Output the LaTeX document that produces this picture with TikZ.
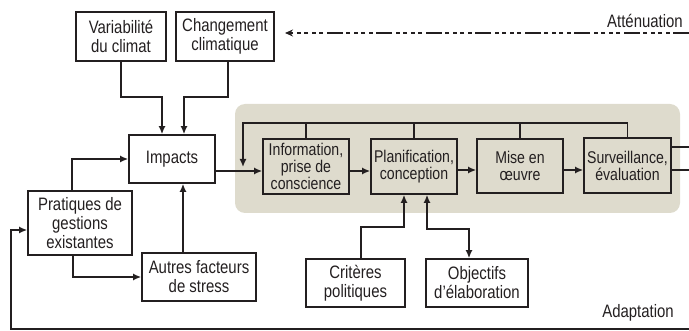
\documentclass[tikz,border=0pt]{standalone}
\usepackage{fontspec}
\setmainfont{Liberation Sans}[FakeStretch=0.83]
\usetikzlibrary{arrows.meta,calc}
\definecolor{ink}{RGB}{35,31,32}
\definecolor{zone}{RGB}{222,219,205}
\begin{document}
\begin{tikzpicture}[x=1pt,y=-1pt,
  every node/.style={text=ink},
  box/.style={draw=ink,line width=1.7pt,inner sep=0pt,align=center,
    font=\fontsize{18}{19}\selectfont},
  inbox/.style={box,font=\fontsize{17}{17}\selectfont},
  conn/.style={draw=ink,line width=1.5pt},
  arr/.style={conn,-{Latex[length=8pt,width=7pt]}},
  arrtwo/.style={conn,{Latex[length=8pt,width=7pt]}-{Latex[length=8pt,width=7pt]}},
  lbl/.style={font=\fontsize{18}{19}\selectfont,inner sep=0pt,anchor=east}]
\useasboundingbox (0,0) rectangle (689,331);
% shaded zone
\fill[zone,rounded corners=10pt] (235,104) rectangle (680,213);
% boxes
\node[box,minimum width=90pt,minimum height=49pt] (var) at (121,36.5) {Variabilité\\du climat};
\node[box,minimum width=98pt,minimum height=49pt] (chg) at (225,36.5) {Changement\\climatique};
\node[box,minimum width=86pt,minimum height=48pt] (imp) at (172,159) {Impacts};
\node[box,minimum width=104pt,minimum height=64pt] (prat) at (80,223) {Pratiques de\\gestions\\existantes};
\node[box,minimum width=114pt,minimum height=48pt] (aut) at (199,277) {Autres facteurs\\de stress};
\node[inbox,minimum width=86pt,minimum height=55pt] (info) at (306,166.5) {Information,\\prise de\\conscience};
\node[inbox,minimum width=86pt,minimum height=55pt] (plan) at (414,166.5) {Planification,\\conception};
\node[inbox,minimum width=86pt,minimum height=54pt] (mise) at (520,166) {Mise en\\œuvre};
\node[inbox,minimum width=87pt,minimum height=55pt] (surv) at (627.5,165.5) {Surveillance,\\évaluation};
\node[box,minimum width=99pt,minimum height=48pt] (crit) at (355.5,283) {Critères\\politiques};
\node[box,minimum width=102pt,minimum height=48pt] (obj) at (477,283) {Objectifs\\d’élaboration};
% labels
\node[lbl] (att) at (683,21) {Atténuation};
\node[lbl] (ada) at (674,313) {Adaptation};
% free ends
\coordinate (atR) at (689,33);
\coordinate (atL) at (285,33);
\coordinate (adR) at (689,329);
\coordinate (fbL) at (243,123);
\coordinate (fbE) at (243,167);
\coordinate (rtA) at (689,147);
\coordinate (rtB) at (689,170);
% connectors
\draw[arr] (var.south) -- ++(0,35) -| ($(imp.north)+(-10,0)$);
\draw[arr] ($(chg.south)+(3,0)$) -- ++(0,35) -| ($(imp.north)+(12,0)$);
\draw[arr] ($(prat.north)+(-8,0)$) |- (imp.west);
\draw[arr] ($(prat.south)+(-7,0)$) |- (aut.west);
\draw[arr] ($(aut.north)+(-16,0)$) -- ($(imp.south)+(11,0)$);
\draw[arr] (imp.east |- 0,171) -- (info.west |- 0,171);
\draw[arr] (info.east |- 0,171) -- (plan.west |- 0,171);
\draw[arr] (plan.east |- 0,170) -- (mise.west |- 0,170);
\draw[arr] (mise.east |- 0,170) -- (surv.west |- 0,170);
\draw[conn] (surv.east |- rtA) -- (rtA);
\draw[conn] (surv.east |- rtB) -- (rtB);
% feedback loop
\draw[arr] (surv.north) |- (fbL) -- (fbE);
\draw[conn] (info.north) -- (info.north |- fbL);
\draw[conn] (plan.north) -- (plan.north |- fbL);
\draw[conn] (mise.north) -- (mise.north |- fbL);
% criteria and objectives
\draw[arr] ($(crit.north)+(5.5,0)$) -- ++(0,-31) -| ($(plan.south)+(-10,0)$);
\draw[arrtwo] ($(plan.south)+(13,0)$) -- ++(0,34) -| ($(obj.north)+(-8,0)$);
% adaptation loop
\draw[arr] (adR) -| ($(prat.west)+(-16,7)$) -- ($(prat.west)+(0,7)$);
% attenuation dashed
\draw[conn,dash pattern=on 16pt off 3.5pt on 4pt off 3.5pt on 4pt off 3.5pt on 4pt off 3.5pt on 4pt off 3.5pt,
  -{Stealth[length=8pt,width=7pt]}] (atR) -- (atL);
\end{tikzpicture}
\end{document}
